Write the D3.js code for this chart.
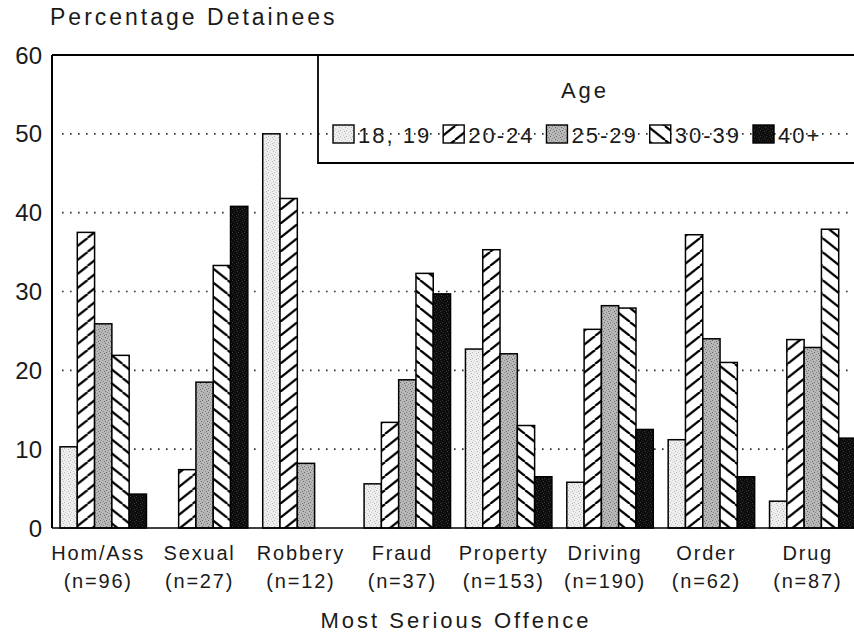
<!DOCTYPE html>
<html>
<head>
<meta charset="utf-8">
<script src="https://cdn.jsdelivr.net/npm/d3@7"></script>
<style>
  html, body { margin: 0; padding: 0; background: #fff; }
  svg { display: block; font-family: "Liberation Sans", Arial, Helvetica, sans-serif; }
</style>
</head>
<body>
<svg id="chart" width="854" height="635"></svg>
<script>
// ---- data ----
const categories = ["Hom/Ass", "Sexual", "Robbery", "Fraud", "Property", "Driving", "Order", "Drug"];
const sampleSizes = ["(n=96)", "(n=27)", "(n=12)", "(n=37)", "(n=153)", "(n=190)", "(n=62)", "(n=87)"];
const ageGroups = ["18, 19", "20-24", "25-29", "30-39", "40+"];
const age18_19 = [10.3, 0, 50.0, 5.6, 22.7, 5.8, 11.2, 3.4];
const age20_24 = [37.5, 7.4, 41.8, 13.4, 35.3, 25.2, 37.2, 23.9];
const age25_29 = [25.9, 18.5, 8.2, 18.8, 22.1, 28.2, 24.0, 22.9];
const age30_39 = [21.9, 33.3, 0, 32.3, 13.0, 27.9, 21.0, 37.9];
const age40plus = [4.3, 40.8, 0, 29.7, 6.5, 12.5, 6.5, 11.4];
const yTicks = [0, 10, 20, 30, 40, 50, 60];
const yTitle = "Percentage Detainees";
const xTitle = "Most Serious Offence";
const legendTitle = "Age";

const series = [age18_19, age20_24, age25_29, age30_39, age40plus];

// ---- layout ----
const svg = d3.select("#chart");
const mLeft = 52, mTop = 55, mBottom = 528, mRight = 854;

const y = d3.scaleLinear().domain([0, 60]).range([mBottom, mTop]);
const x0 = d3.scaleBand().domain(categories)
  .range([52.5, 863.5]).paddingInner(0.147).paddingOuter(0.074);
const x1 = d3.scaleBand().domain(ageGroups).range([0, x0.bandwidth()]);

// ---- patterns ----
const defs = svg.append("defs");
function stipple(id, base, dot, dot2) {
  const p = defs.append("pattern").attr("id", id)
    .attr("patternUnits", "userSpaceOnUse").attr("width", 6).attr("height", 6);
  p.append("rect").attr("width", 6).attr("height", 6).attr("fill", base);
  const pts = [[0,0],[3,1],[1,3],[4,4],[5,2],[2,5]];
  pts.forEach((q, i) => p.append("rect").attr("x", q[0]).attr("y", q[1])
    .attr("width", 1).attr("height", 1).attr("fill", i % 2 ? dot : dot2));
}
stipple("p1819", "#eeeeee", "#b5b5b5", "#d0d0d0");
stipple("p2529", "#b8b8b8", "#6a6a6a", "#8a8a8a");
stipple("p40", "#0d0d0d", "#3a3a3a", "#222");

function hatch(id, dir) {
  const W = 17.5, H = 14;
  const p = defs.append("pattern").attr("id", id)
    .attr("patternUnits", "userSpaceOnUse").attr("width", W).attr("height", H);
  p.append("rect").attr("width", W).attr("height", H).attr("fill", "#fff");
  [-W, 0, W].forEach(dx => {
    const l = p.append("line").attr("stroke", "#000").attr("stroke-width", 2.2);
    if (dir > 0) l.attr("x1", dx).attr("y1", H).attr("x2", dx + W).attr("y2", 0);
    else l.attr("x1", dx).attr("y1", 0).attr("x2", dx + W).attr("y2", H);
  });
}
hatch("p2024", 1);
hatch("p3039", -1);
const fills = ["url(#p1819)", "url(#p2024)", "url(#p2529)", "url(#p3039)", "url(#p40)"];

// ---- gridlines ----
svg.append("g").selectAll("line").data(yTicks.filter(t => t > 0 && t < 60)).join("line")
  .attr("x1", 62).attr("x2", mRight).attr("y1", d => y(d)).attr("y2", d => y(d))
  .attr("stroke", "#333").attr("stroke-width", 1.6).attr("stroke-dasharray", "1.6,6.4");

// ---- bars ----
const barData = [];
categories.forEach((c, ci) => ageGroups.forEach((a, ai) => {
  if (series[ai][ci] > 0) barData.push({ c, a, ai, v: series[ai][ci] });
}));
svg.append("g").selectAll("rect").data(barData).join("rect")
  .attr("x", d => x0(d.c) + x1(d.a))
  .attr("y", d => y(d.v))
  .attr("width", x1.bandwidth())
  .attr("height", d => y(0) - y(d.v))
  .attr("fill", d => fills[d.ai])
  .attr("stroke", "#000").attr("stroke-width", 1.5);

// ---- frame ----
svg.append("line").attr("x1", mLeft).attr("x2", mRight).attr("y1", mTop).attr("y2", mTop)
  .attr("stroke", "#000").attr("stroke-width", 2);
svg.append("line").attr("x1", mLeft).attr("x2", mLeft).attr("y1", mTop).attr("y2", mBottom)
  .attr("stroke", "#000").attr("stroke-width", 2);
svg.append("line").attr("x1", mLeft).attr("x2", mRight).attr("y1", mBottom).attr("y2", mBottom)
  .attr("stroke", "#000").attr("stroke-width", 1.6);

// ---- y axis labels ----
svg.append("g").selectAll("text").data(yTicks).join("text")
  .attr("x", 42).attr("y", d => y(d) + 8.5)
  .attr("text-anchor", "end").attr("font-size", 24).attr("fill", "#1a1a1a")
  .text(d => d);

svg.append("text").attr("x", 50).attr("y", 25).attr("font-size", 23)
  .attr("letter-spacing", 3).attr("fill", "#1a1a1a").text(yTitle);

// ---- x labels ----
const xl = svg.append("g").attr("font-size", 20).attr("letter-spacing", 1.8)
  .attr("fill", "#1a1a1a").attr("text-anchor", "middle");
xl.selectAll("text.cat").data(categories).join("text").attr("class", "cat")
  .attr("x", d => x0(d) + x0.bandwidth() / 2 - 5).attr("y", 560).text(d => d);
xl.selectAll("text.n").data(sampleSizes).join("text").attr("class", "n")
  .attr("x", (d, i) => x0(categories[i]) + x0.bandwidth() / 2 - 5).attr("y", 588).text(d => d);

svg.append("text").attr("x", 456).attr("y", 628).attr("text-anchor", "middle")
  .attr("font-size", 22).attr("letter-spacing", 3).attr("fill", "#1a1a1a").text(xTitle);

// ---- legend ----
const lg = svg.append("g");
lg.append("path").attr("d", `M318,${mTop}V163H${mRight}`)
  .attr("fill", "none").attr("stroke", "#000").attr("stroke-width", 1.8);
lg.append("text").attr("x", 585).attr("y", 98).attr("text-anchor", "middle")
  .attr("font-size", 22).attr("letter-spacing", 3).attr("fill", "#1a1a1a").text(legendTitle);
let lx = 333;
ageGroups.forEach((a, i) => {
  lg.append("rect").attr("x", lx).attr("y", 125).attr("width", 21).attr("height", 18)
    .attr("fill", fills[i]).attr("stroke", "#000").attr("stroke-width", 1.4);
  const t = lg.append("text").attr("x", lx + 25).attr("y", 143)
    .attr("font-size", 22).attr("letter-spacing", 2).attr("fill", "#1a1a1a").text(a);
  lx = lx + 25 + t.node().getComputedTextLength() + 12;
});
</script>
</body>
</html>
